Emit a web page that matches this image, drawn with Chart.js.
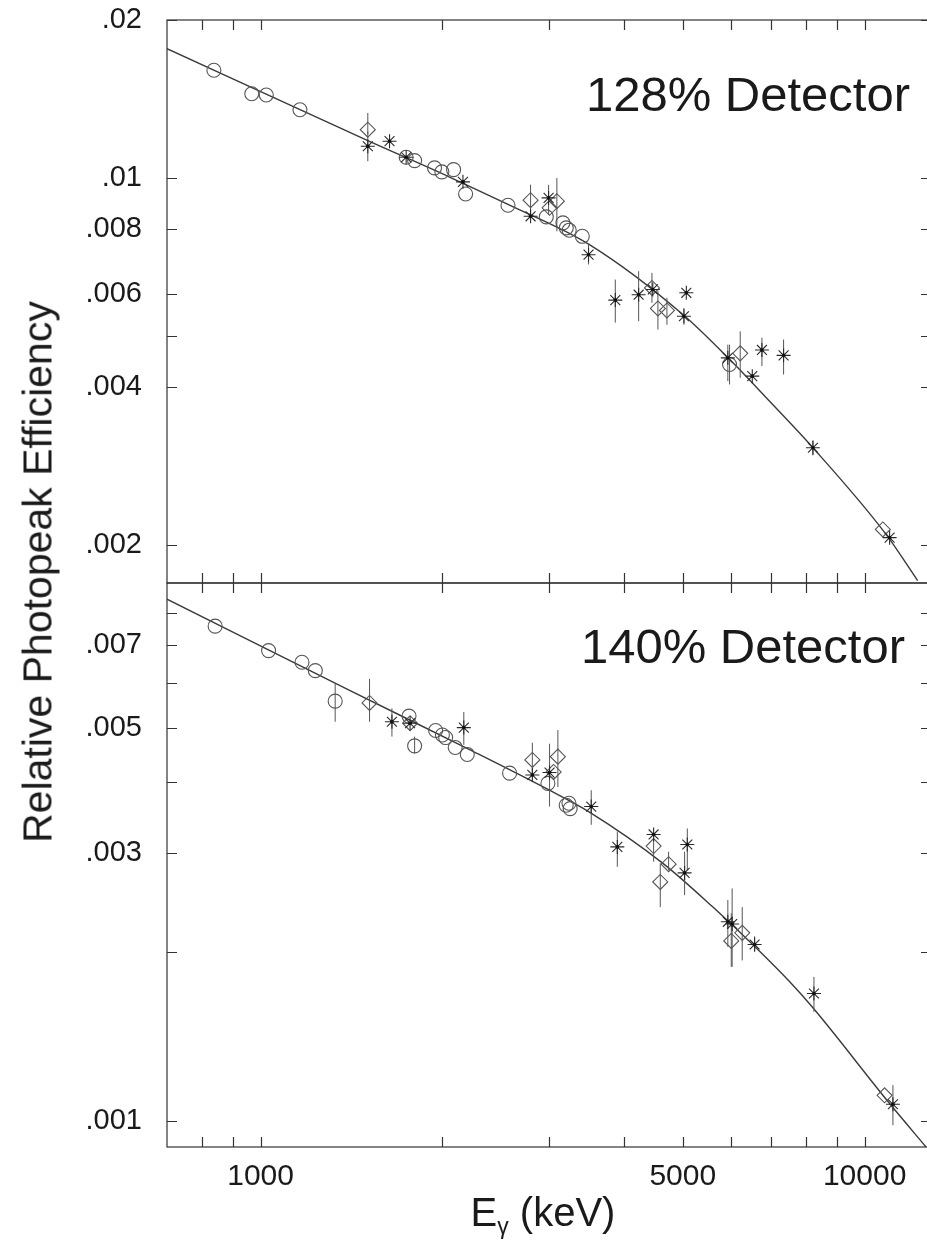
<!DOCTYPE html>
<html>
<head>
<meta charset="utf-8">
<script src="https://cdn.jsdelivr.net/npm/chart.js@4.4.0/dist/chart.umd.min.js"></script>
<style>
html,body{margin:0;padding:0;background:#fff;width:927px;height:1247px;overflow:hidden;position:relative;font-family:"Liberation Sans",Arial,Helvetica,sans-serif;}
canvas{position:absolute;left:0;}
#c1{top:-50px;}
#c2{top:513px;}
.lbl{position:absolute;color:#1a1a1a;white-space:nowrap;line-height:1;}
#t1{right:17px;top:70px;font-size:49px;}
#t2{right:22px;top:622px;font-size:49px;}
#xt{left:543px;top:1192px;font-size:40px;transform:translateX(-50%);}
#xt sub{font-size:23px;vertical-align:-8px;}
#yt{left:38px;top:572px;font-size:41px;transform:translate(-50%,-50%) rotate(-90deg);}
</style>
</head>
<body>
<canvas id="c1" width="931" height="683"></canvas>
<canvas id="c2" width="931" height="734"></canvas>
<div class="lbl" id="t1">128% Detector</div>
<div class="lbl" id="t2">140% Detector</div>
<div class="lbl" id="xt">E<sub>γ</sub> (keV)</div>
<div class="lbl" id="yt">Relative Photopeak Efficiency</div>
<script>
// ---------- axis ticks ----------
const xTickValues = [800, 900, 1000, 2000, 3000, 4000, 5000, 6000, 7000, 8000, 9000, 10000];
const xTickLabels = ['', '', '1000', '', '', '', '5000', '', '', '', '', '10000'];
const yTopTickValues = [0.002, 0.004, 0.005, 0.006, 0.008, 0.01, 0.02];
const yTopTickLabels = ['.002', '.004', '', '.006', '.008', '.01', '.02'];
const yBotTickValues = [0.001, 0.002, 0.003, 0.004, 0.005, 0.006, 0.007, 0.008];
const yBotTickLabels = ['.001', '', '.003', '', '.005', '', '.007', ''];

// ---------- 128% detector ----------
const topCircleE = [837, 967, 1022, 1162, 1742, 1799, 1941, 1996, 2087, 2185, 2568, 2972, 3166, 3207, 3243, 3409, 5976];
const topCircleV = [0.01604, 0.01447, 0.01439, 0.01349, 0.01095, 0.01079, 0.01045, 0.01027, 0.01037, 0.00932, 0.00887, 0.00843, 0.00821, 0.00803, 0.00795, 0.00774, 0.00441];
const topDiamondE = [1505, 2799, 3009, 3094, 4446, 4548, 4707, 6224, 10720];
const topDiamondV = [0.01236, 0.00907, 0.00877, 0.00903, 0.00617, 0.00564, 0.00559, 0.00463, 0.002138];
const topStarE = [1505, 1635, 1742, 2163, 2799, 2998, 3491, 3866, 4226, 4460, 5068, 5022, 5937, 6517, 6761, 7343, 8212, 11000];
const topStarV = [0.01149, 0.01175, 0.01095, 0.00983, 0.00845, 0.00916, 0.00714, 0.00585, 0.00599, 0.00613, 0.00604, 0.00545, 0.00454, 0.00419, 0.00470, 0.00459, 0.00306, 0.002062];
const topErrE  = [1505, 1505, 2799, 2998, 3094, 3491, 3866, 4226, 4446, 4548, 4707, 5022, 5937, 5976, 6224, 6761, 7343, 8212];
const topErrLo = [0.0121, 0.01076, 0.00851, 0.0085, 0.00791, 0.00684, 0.00530, 0.00533, 0.00578, 0.00514, 0.00525, 0.00525, 0.00410, 0.00404, 0.00416, 0.00438, 0.00422, 0.00296];
const topErrHi = [0.0133, 0.01227, 0.00971, 0.0097, 0.0100, 0.00746, 0.00640, 0.00664, 0.00659, 0.00609, 0.00591, 0.00565, 0.00481, 0.00481, 0.00510, 0.00496, 0.00492, 0.00316];
const topFitE = [700, 1505, 2055, 2568, 3503, 5002, 5976, 6874, 8212, 10860, 12240];
const topFitV = [0.01763, 0.01178, 0.01004, 0.00890, 0.00746, 0.00549, 0.00451, 0.00381, 0.00306, 0.00209, 0.001708];

// ---------- 140% detector ----------
const botCircleE = [841, 1031, 1171, 1232, 1329, 1761, 1799, 1949, 2000, 2025, 2100, 2199, 2584, 2990, 3206, 3240, 3255];
const botCircleV = [0.00757, 0.00685, 0.00653, 0.00631, 0.00557, 0.00524, 0.00464, 0.00494, 0.00485, 0.00480, 0.00461, 0.00448, 0.00415, 0.00398, 0.00364, 0.00367, 0.00359];
const botDiamondE = [1515, 1768, 2818, 3056, 3106, 4474, 4737, 4589, 6015, 6272, 10790];
const botDiamondV = [0.00553, 0.00509, 0.00438, 0.00417, 0.00444, 0.00308, 0.00286, 0.00266, 0.00209, 0.00216, 0.001112];
const botStarE = [1650, 1768, 2170, 2818, 3009, 3527, 3896, 4474, 5087, 5035, 5937, 6035, 6575, 8244, 11140];
const botStarV = [0.00512, 0.00509, 0.00500, 0.00412, 0.00416, 0.00362, 0.00307, 0.00323, 0.0031, 0.00276, 0.00226, 0.00224, 0.00206, 0.001686, 0.001072];
const botErrE  = [1329, 1515, 1650, 1799, 2170, 2818, 3009, 3106, 3527, 3896, 4474, 4737, 4589, 5087, 5035, 5937, 6035, 6015, 6272, 6575, 8244, 11140];
const botErrLo = [0.00512, 0.00512, 0.00482, 0.0045, 0.00466, 0.00409, 0.00362, 0.00392, 0.00336, 0.00283, 0.00289, 0.00279, 0.0024, 0.00279, 0.00252, 0.00204, 0.00188, 0.00188, 0.00193, 0.0020, 0.001564, 0.000984];
const botErrHi = [0.00599, 0.0061, 0.00541, 0.00482, 0.00533, 0.0047, 0.00468, 0.00495, 0.00387, 0.00327, 0.00316, 0.00301, 0.00287, 0.00331, 0.00301, 0.00247, 0.00259, 0.00234, 0.0024, 0.00213, 0.001804, 0.001159];
const botFitE = [700, 1404, 2218, 3009, 3503, 4636, 5609, 6617, 7510, 8212, 11000, 12640];
const botFitV = [0.00845, 0.00582, 0.00457, 0.00387, 0.00354, 0.00287, 0.0024, 0.00203, 0.00177, 0.00159, 0.001075, 0.0009];

// ---------- helpers ----------
const FONT = '"Liberation Sans", Arial, Helvetica, sans-serif';
const INK = '#1a1a1a';
const pts = (E, V) => E.map((e, i) => ({x: e, y: V[i]}));
function errPts(E, lo, hi) {
  const d = [];
  E.forEach((e, i) => { d.push({x: e, y: lo[i]}, {x: e, y: hi[i]}, {x: e, y: null}); });
  return d;
}
function makeDatasets(cE, cV, dE, dV, sE, sV, eE, eLo, eHi, fE, fV) {
  return [
    {data: pts(fE, fV), showLine: true, pointRadius: 0, borderColor: '#3a3a3a', borderWidth: 1.4, cubicInterpolationMode: 'monotone', order: 5},
    {data: errPts(eE, eLo, eHi), showLine: true, spanGaps: false, pointRadius: 0, borderColor: '#555', borderWidth: 1, order: 4},
    {data: pts(cE, cV), pointStyle: 'circle', pointRadius: 7, borderColor: '#555', backgroundColor: 'rgba(0,0,0,0)', borderWidth: 1.1, order: 3},
    {data: pts(dE, dV), pointStyle: 'rectRot', pointRadius: 7.5, borderColor: '#555', backgroundColor: 'rgba(0,0,0,0)', borderWidth: 1.1, order: 2},
    {data: pts(sE, sV), pointStyle: 'star', pointRadius: 7, borderColor: '#2a2a2a', backgroundColor: 'rgba(0,0,0,0)', borderWidth: 1.1, order: 1},
    {data: pts(sE, sV), pointStyle: 'circle', pointRadius: 1.8, borderColor: '#111', backgroundColor: '#111', borderWidth: 0, order: 0}
  ];
}

const frameTicks = {
  id: 'frameTicks',
  afterDraw(chart, args, opts) {
    const {ctx, chartArea: a, scales} = chart;
    const xs = scales.x, ys = scales.y;
    const L = 10;
    ctx.save();
    ctx.strokeStyle = '#333';
    ctx.lineWidth = 1.2;
    ctx.strokeRect(a.left, a.top, a.right - a.left, a.bottom - a.top);
    ctx.beginPath();
    opts.xTicks.forEach(v => {
      const px = Math.round(xs.getPixelForValue(v)) + 0.5;
      ctx.moveTo(px, a.top); ctx.lineTo(px, a.top + L);
      ctx.moveTo(px, a.bottom); ctx.lineTo(px, a.bottom - L);
    });
    opts.yTicks.forEach(v => {
      const py = Math.round(ys.getPixelForValue(v)) + 0.5;
      ctx.moveTo(a.left, py); ctx.lineTo(a.left + L, py);
      ctx.moveTo(a.right, py); ctx.lineTo(a.right - L, py);
    });
    ctx.stroke();
    ctx.restore();
  }
};

function yScale(min, max, tickVals, tickLabels) {
  return {
    type: 'logarithmic', position: 'left', min: min, max: max,
    afterFit: s => { s.width = 167; },
    afterBuildTicks: s => { s.ticks = tickVals.map(v => ({value: v})); },
    ticks: {autoSkip: false, padding: 25, color: INK, font: {family: FONT, size: 29},
            callback: (v, i) => tickLabels[i]},
    grid: {display: false, drawTicks: false},
    border: {display: false}
  };
}

const common = {
  responsive: false, animation: false, devicePixelRatio: 1,
  events: []
};

new Chart(document.getElementById('c1'), {
  type: 'scatter',
  data: {datasets: makeDatasets(topCircleE, topCircleV, topDiamondE, topDiamondV, topStarE, topStarV, topErrE, topErrLo, topErrHi, topFitE, topFitV)},
  options: Object.assign({}, common, {
    layout: {autoPadding: false, padding: {top: 70, bottom: 50, left: 0, right: 0}},
    plugins: {legend: {display: false}, tooltip: {enabled: false}, frameTicks: {xTicks: xTickValues, yTicks: yTopTickValues}},
    scales: {
      x: {type: 'logarithmic', min: 700, max: 12880, display: false},
      y: yScale(0.00169, 0.02, yTopTickValues, yTopTickLabels)
    }
  }),
  plugins: [frameTicks]
});

new Chart(document.getElementById('c2'), {
  type: 'scatter',
  data: {datasets: makeDatasets(botCircleE, botCircleV, botDiamondE, botDiamondV, botStarE, botStarV, botErrE, botErrLo, botErrHi, botFitE, botFitV)},
  options: Object.assign({}, common, {
    layout: {autoPadding: false, padding: {top: 70, bottom: 0, left: 0, right: 0}},
    plugins: {legend: {display: false}, tooltip: {enabled: false}, frameTicks: {xTicks: xTickValues, yTicks: yBotTickValues}},
    scales: {
      x: {
        type: 'logarithmic', position: 'bottom', min: 700, max: 12880,
        afterFit: s => { s.height = 100; },
        afterBuildTicks: s => { s.ticks = xTickValues.map(v => ({value: v})); },
        ticks: {autoSkip: false, maxRotation: 0, minRotation: 0, padding: 12, color: INK,
                font: {family: FONT, size: 30}, callback: (v, i) => xTickLabels[i]},
        grid: {display: false, drawTicks: false},
        border: {display: false}
      },
      y: yScale(0.0009, 0.00903, yBotTickValues, yBotTickLabels)
    }
  }),
  plugins: [frameTicks]
});
</script>
</body>
</html>
